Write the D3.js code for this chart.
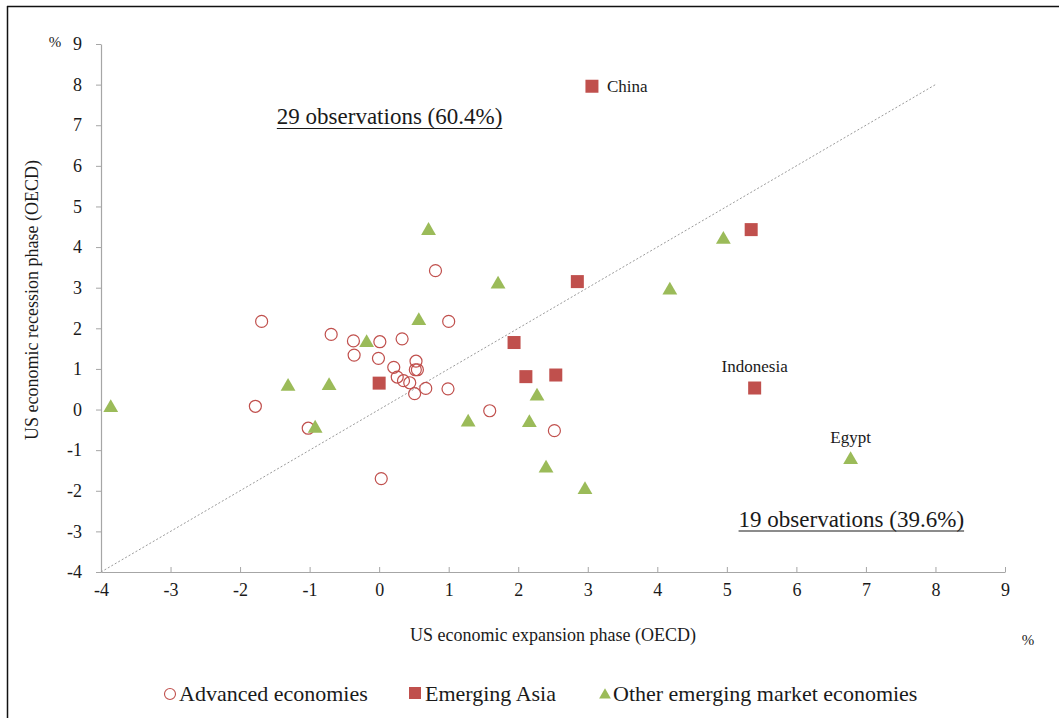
<!DOCTYPE html>
<html>
<head>
<meta charset="utf-8">
<script src="https://cdn.jsdelivr.net/npm/d3@7"></script>
<style>
  html, body { margin: 0; padding: 0; background: #fff; }
  svg { display: block; font-family: "Liberation Serif", "Times New Roman", serif; }
</style>
</head>
<body>
<svg id="chart" width="1059" height="718"></svg>
<script>
// Advanced economies: [expansion, recession]
const advanced = [
  [0.81, 3.42], [-1.69, 2.17], [1.00, 2.17], [-0.69, 1.85], [-0.37, 1.69],
  [0.01, 1.67], [0.33, 1.74], [-0.36, 1.34], [-0.01, 1.26], [0.21, 1.04],
  [0.53, 1.19], [0.52, 0.98], [0.55, 0.98], [0.26, 0.80], [0.35, 0.71],
  [0.44, 0.66], [0.67, 0.52], [0.51, 0.39], [0.99, 0.51], [-1.78, 0.08],
  [-1.02, -0.46], [1.59, -0.03], [2.52, -0.52], [0.03, -1.70]
];
// Emerging Asia
const emergingAsia = [
  [3.06, 7.96, "China"], [5.35, 4.43], [2.85, 3.15], [1.94, 1.65],
  [2.11, 0.81], [2.54, 0.85], [0.00, 0.65], [5.40, 0.53, "Indonesia"]
];
// Other emerging market economies
const otherEM = [
  [-3.86, 0.07], [-1.31, 0.59], [-0.72, 0.61], [-0.92, -0.44], [-0.18, 1.67],
  [0.57, 2.21], [0.71, 4.43], [1.71, 3.11], [1.28, -0.29], [2.27, 0.35],
  [2.16, -0.30], [2.40, -1.42], [2.96, -1.95], [4.18, 2.96], [4.95, 4.21],
  [6.78, -1.21, "Egypt"]
];
const xTicks = [-4, -3, -2, -1, 0, 1, 2, 3, 4, 5, 6, 7, 8, 9];
const yTicks = [-4, -3, -2, -1, 0, 1, 2, 3, 4, 5, 6, 7, 8, 9];
const diagonal = [[-4, -4], [8, 8]];
const notes = [
  { text: "29 observations (60.4%)", x: 0.15, y: 7.03 },
  { text: "19 observations (39.6%)", x: 6.79, y: -2.88 }
];
const legendItems = ["Advanced economies", "Emerging Asia", "Other emerging market economies"];

const RED = "#c0504d", GREEN = "#9bbb59", AXIS = "#a6a6a6", TEXT = "#1a1a1a";

const svg = d3.select("#chart");
const x = d3.scaleLinear().domain([-4, 9]).range([101, 1005]);
const y = d3.scaleLinear().domain([-4, 9]).range([572, 44]);

// frame lines
svg.append("line").attr("x1", 7).attr("x2", 1059).attr("y1", 6.5).attr("y2", 6.5)
  .attr("stroke", "#111").attr("stroke-width", 1.5);
svg.append("line").attr("x1", 7.5).attr("x2", 7.5).attr("y1", 6).attr("y2", 718)
  .attr("stroke", "#111").attr("stroke-width", 1.5);

// axes
const fmt = d => String(d);
const xAxis = svg.append("g").attr("transform", `translate(0,${y(-4)})`)
  .call(d3.axisBottom(x).tickValues(xTicks).tickFormat(fmt).tickSizeInner(-5).tickSizeOuter(0).tickPadding(13));
const yAxis = svg.append("g").attr("transform", `translate(${x(-4)},0)`)
  .call(d3.axisLeft(y).tickValues(yTicks).tickFormat(fmt).tickSizeInner(5).tickSizeOuter(0).tickPadding(14));
[xAxis, yAxis].forEach(g => {
  g.select(".domain").attr("stroke", AXIS).attr("stroke-width", 1.2);
  g.selectAll(".tick line").attr("stroke", AXIS);
  g.selectAll(".tick text").attr("fill", TEXT).style("font-size", "18px")
    .style("font-family", "'Liberation Serif', serif");
});
xAxis.selectAll(".tick text").attr("dy", "0.6em");

// diagonal reference line
svg.append("line")
  .attr("x1", x(diagonal[0][0])).attr("y1", y(diagonal[0][1]))
  .attr("x2", x(diagonal[1][0])).attr("y2", y(diagonal[1][1]))
  .attr("stroke", "#9a9a9a").attr("stroke-width", 1).attr("stroke-dasharray", "2,2");

// axis titles
svg.append("text").attr("x", 553).attr("y", 641).attr("text-anchor", "middle")
  .attr("fill", TEXT).style("font-size", "18px").text("US economic expansion phase (OECD)");
svg.append("text").attr("transform", "translate(38,300) rotate(-90)").attr("text-anchor", "middle")
  .attr("fill", TEXT).style("font-size", "18px").text("US economic recession phase (OECD)");
svg.append("text").attr("x", 1028).attr("y", 645).attr("text-anchor", "middle")
  .attr("fill", TEXT).style("font-size", "15px").text("%");
svg.append("text").attr("x", 55).attr("y", 47).attr("text-anchor", "middle")
  .attr("fill", TEXT).style("font-size", "15px").text("%");

// points
const pts = svg.append("g");
pts.selectAll("circle.adv").data(advanced).join("circle")
  .attr("class", "adv").attr("cx", d => x(d[0])).attr("cy", d => y(d[1])).attr("r", 6)
  .attr("fill", "#fff").attr("fill-opacity", 0).attr("stroke", RED).attr("stroke-width", 1.2);
pts.selectAll("rect.asia").data(emergingAsia).join("rect")
  .attr("class", "asia").attr("x", d => x(d[0]) - 6.5).attr("y", d => y(d[1]) - 6.5)
  .attr("width", 13).attr("height", 13).attr("fill", RED);
const tri = d3.symbol().type(d3.symbolTriangle).size(95);
pts.selectAll("path.oem").data(otherEM).join("path")
  .attr("class", "oem").attr("d", tri)
  .attr("transform", d => `translate(${x(d[0])},${y(d[1]) + 1})`).attr("fill", GREEN);

// point labels
svg.append("text").attr("x", x(emergingAsia[0][0]) + 15).attr("y", y(emergingAsia[0][1]) + 6)
  .attr("fill", TEXT).style("font-size", "17px").text(emergingAsia[0][2]);
svg.append("text").attr("x", x(emergingAsia[7][0])).attr("y", y(emergingAsia[7][1]) - 16)
  .attr("text-anchor", "middle").attr("fill", TEXT).style("font-size", "17px").text(emergingAsia[7][2]);
svg.append("text").attr("x", x(otherEM[15][0])).attr("y", y(otherEM[15][1]) - 16)
  .attr("text-anchor", "middle").attr("fill", TEXT).style("font-size", "17px").text(otherEM[15][2]);

// observation counts, underlined
notes.forEach(n => {
  const t = svg.append("text").attr("x", x(n.x)).attr("y", y(n.y))
    .attr("text-anchor", "middle").attr("fill", TEXT).style("font-size", "23px").text(n.text);
  const bb = t.node().getBBox();
  svg.append("line").attr("x1", bb.x).attr("x2", bb.x + bb.width)
    .attr("y1", y(n.y) + 4.5).attr("y2", y(n.y) + 4.5).attr("stroke", TEXT).attr("stroke-width", 1.2);
});

// legend
const lg = svg.append("g").style("font-size", "22px");
lg.append("circle").attr("cx", 170).attr("cy", 694).attr("r", 5.5)
  .attr("fill", "none").attr("stroke", RED).attr("stroke-width", 1.1);
lg.append("text").attr("x", 179).attr("y", 701).attr("fill", TEXT).text(legendItems[0]);
lg.append("rect").attr("x", 409).attr("y", 687).attr("width", 12).attr("height", 12).attr("fill", RED);
lg.append("text").attr("x", 425).attr("y", 701).attr("fill", TEXT).text(legendItems[1]);
lg.append("path").attr("d", d3.symbol().type(d3.symbolTriangle).size(60))
  .attr("transform", "translate(605,695)").attr("fill", GREEN);
lg.append("text").attr("x", 613).attr("y", 701).attr("fill", TEXT).text(legendItems[2]);
</script>
</body>
</html>
